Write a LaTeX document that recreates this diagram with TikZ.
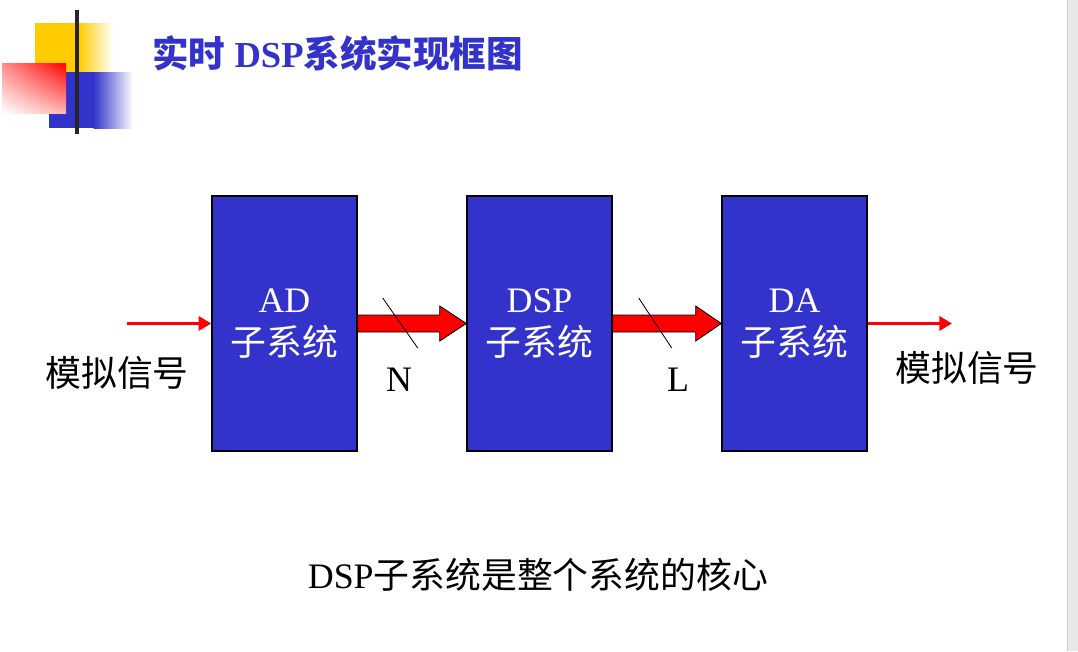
\documentclass[tikz,border=0pt]{standalone}
\usepackage{fontspec}
\setmainfont{Liberation Serif}
\newfontfamily\cjk{Noto Sans CJK SC}
\usepackage{tikz}
\usetikzlibrary{calc}
\usetikzlibrary{arrows.meta}
\usetikzlibrary{shadings}
\usetikzlibrary{positioning}

\definecolor{dspblue}{HTML}{3333CC}
\definecolor{logoyellow}{HTML}{FFCC00}
\definecolor{stripgray}{HTML}{E8E8E8}

\tikzset{
  blk/.style={draw=black,line width=1pt,fill=dspblue,text=white,
    minimum width=3.625cm,minimum height=6.375cm,align=center,
    font=\fontsize{25.5}{30.5}\selectfont,inner sep=0pt},
  sig/.style={red,line width=2.8pt,
    -{Triangle[length=9pt,width=10pt]}},
  fat/.style={draw=black,line width=0.6pt,fill=red},
  lbl/.style={font=\fontsize{25.5}{28}\selectfont,inner sep=0pt}
}

\begin{document}
\begin{tikzpicture}[x=0.025cm,y=-0.025cm]
        \useasboundingbox (0,0) rectangle (1078,651);
        \fill[white] (0,0) rectangle (1078,651);
        \fill[stripgray] (1067,0) rectangle (1078,651);
        \draw[black!20,line width=0.4pt] (1067,0) -- (1067,651);

        % logo
        \fill[logoyellow] (35,23) rectangle (79,72);
        \shade[left color=logoyellow,right color=white] (78.5,23) rectangle (113,72);
        \fill[dspblue] (49,72) rectangle (94,128);
        \shade[left color=dspblue,right color=white] (93.5,72) rectangle (133,128);
        \shade[upper right=red,lower left=white,upper left=red!45,lower right=red!30]
            (2,63) rectangle (66,113);
        \draw[black!85,line width=2.2pt] (77,10) -- (77,134);

        \node[anchor=west,text=dspblue,font=\fontsize{26}{28}\selectfont\bfseries,inner sep=0pt]
            (title) at (152,54) {{\cjk 实时} DSP{\cjk 系统实现框图}};

        \node[blk] (ad) at (284.5,323.5) {AD\\{\cjk 子系统}};
        \node[blk] (dsp) at (539.5,323.5) {DSP\\{\cjk 子系统}};
        \node[blk] (da) at (794.5,323.5) {DA\\{\cjk 子系统}};

        \coordinate (in) at (127,323.5);
        \coordinate (out) at (952,323.5);
        \draw[sig] (in) -- (ad.west);
        \draw[sig] (da.east) -- (out);

        \draw[fat] ($(ad.east)+(0,-8.5)$) -- ($(ad.east)+(82,-8.5)$) -- ($(ad.east)+(82,-17.5)$)
            -- (dsp.west) -- ($(ad.east)+(82,17.5)$) -- ($(ad.east)+(82,8.5)$) -- ($(ad.east)+(0,8.5)$) -- cycle;
        \draw[fat] ($(dsp.east)+(0,-8.5)$) -- ($(dsp.east)+(83,-8.5)$) -- ($(dsp.east)+(83,-17.5)$)
            -- (da.west) -- ($(dsp.east)+(83,17.5)$) -- ($(dsp.east)+(83,8.5)$) -- ($(dsp.east)+(0,8.5)$) -- cycle;
        \draw[black,line width=0.6pt] ($(ad.east)+(25,-25.5)$) -- ($(ad.east)+(60,24.5)$);
        \draw[black,line width=0.6pt] ($(dsp.east)+(26,-25.5)$) -- ($(dsp.east)+(59,24.5)$);

        \node[lbl] (n) at (399,380) {N};
        \node[lbl] (l) at (678,380) {L};
        \node[lbl] (ain) at (117,373) {\cjk 模拟信号};
        \node[lbl] (aout) at (967,368) {\cjk 模拟信号};

        \node[lbl] (core) at (538,575) {DSP{\cjk 子系统是整个系统的核心}};
    \end{tikzpicture}
\end{document}
